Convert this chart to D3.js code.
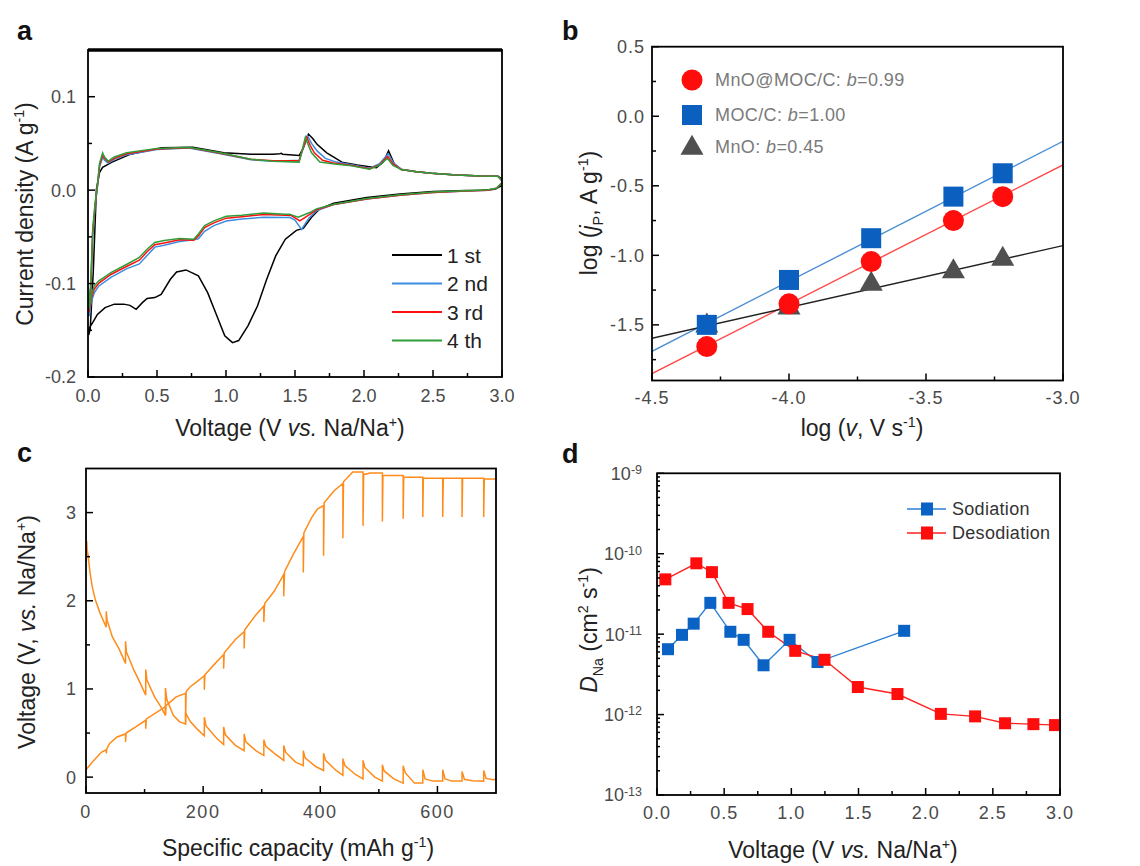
<!DOCTYPE html>
<html><head><meta charset="utf-8">
<script src="https://cdn.jsdelivr.net/npm/d3@7/dist/d3.min.js"></script>
<style>body{margin:0;background:#fff}svg{display:block}text{font-family:"Liberation Sans",Arial,sans-serif}</style>
</head><body>
<script>
// ---------- Panel a: CV curves [V, j] ----------
const cycleLabels = ["1 st","2 nd","3 rd","4 th"];
const cycleColors = ["#000000","#3b8ee0","#ff1010","#2f9e3a"];
const cv1 = [[0.005,-0.155],[0.016,-0.149],[0.038,-0.088],[0.061,0.001],[0.084,0.019],[0.106,0.0244],[0.174,0.030],[0.309,0.0385],[0.534,0.0454],[0.76,0.0458],[0.984,0.040],[1.18,0.0385],[1.34,0.0385],[1.39,0.039],[1.4,0.0395],[1.41,0.0385],[1.53,0.037],[1.56,0.045],[1.597,0.060],[1.63,0.055],[1.66,0.049],[1.73,0.040],[1.84,0.030],[1.95,0.0268],[2.09,0.024],[2.14,0.030],[2.178,0.042],[2.22,0.028],[2.27,0.022],[2.38,0.0196],[2.49,0.018],[2.67,0.0161],[2.85,0.0152],[2.97,0.015],[3.0,0.012],
 [3.0,0.005],[2.95,0.001],[2.85,0.0],[2.74,-0.0005],[2.5,-0.0015],[2.26,-0.004],[2.02,-0.008],[1.78,-0.014],[1.68,-0.020],[1.62,-0.029],[1.56,-0.041],[1.51,-0.043],[1.43,-0.0525],[1.36,-0.0704],[1.295,-0.0954],[1.228,-0.124],[1.16,-0.145],[1.092,-0.161],[1.047,-0.1632],[0.991,-0.156],[0.935,-0.135],[0.867,-0.1097],[0.80,-0.0918],[0.71,-0.0854],[0.642,-0.0875],[0.597,-0.0954],[0.53,-0.1115],[0.484,-0.115],[0.428,-0.116],[0.394,-0.1204],[0.349,-0.1275],[0.304,-0.1233],[0.259,-0.122],[0.191,-0.122],[0.124,-0.1257],[0.068,-0.133],[0.034,-0.1418],[0.011,-0.147],[0.003,-0.155]];
const cv2 = [[0,-0.135],[0.02,-0.11],[0.034,-0.048],[0.052,-0.017],[0.068,0.003],[0.084,0.025],[0.106,0.035],[0.12,0.032],[0.147,0.029],[0.19,0.033],[0.28,0.038],[0.5,0.0435],[0.73,0.045],[0.96,0.039],[1.18,0.0325],[1.34,0.031],[1.53,0.032],[1.57,0.050],[1.59,0.0583],[1.62,0.050],[1.66,0.042],[1.72,0.034],[1.8,0.030],[1.9,0.0275],[2.04,0.0235],[2.11,0.028],[2.175,0.039],[2.215,0.029],[2.27,0.0225],[2.38,0.0196],[2.49,0.018],[2.67,0.0161],[2.85,0.0152],[2.97,0.015],[3.0,0.010],
 [3.0,0.008],[2.96,0.002],[2.9,0.0],[2.74,-0.001],[2.5,-0.0025],[2.26,-0.0055],[2.02,-0.0095],[1.78,-0.0155],[1.655,-0.022],[1.6,-0.03],[1.547,-0.042],[1.5,-0.032],[1.46,-0.029],[1.43,-0.0293],[1.273,-0.029],[1.115,-0.031],[1.002,-0.033],[0.912,-0.038],[0.845,-0.044],[0.80,-0.052],[0.766,-0.053],[0.664,-0.055],[0.552,-0.059],[0.484,-0.061],[0.428,-0.070],[0.372,-0.079],[0.282,-0.084],[0.169,-0.093],[0.079,-0.1025],[0.045,-0.11],[0.023,-0.12],[0.007,-0.135]];
const cv3 = [[0,-0.13],[0.02,-0.105],[0.034,-0.045],[0.052,-0.015],[0.068,0.004],[0.084,0.027],[0.106,0.037],[0.12,0.034],[0.147,0.030],[0.19,0.034],[0.28,0.039],[0.5,0.044],[0.73,0.0455],[0.96,0.0395],[1.18,0.033],[1.34,0.0315],[1.53,0.0315],[1.565,0.048],[1.585,0.0565],[1.61,0.048],[1.64,0.040],[1.7,0.032],[1.78,0.029],[1.89,0.027],[2.04,0.023],[2.11,0.027],[2.172,0.036],[2.21,0.028],[2.27,0.022],[2.38,0.0196],[2.49,0.018],[2.67,0.0161],[2.85,0.0152],[2.97,0.015],[3.0,0.010],
 [3.0,0.008],[2.96,0.002],[2.9,0.0],[2.74,-0.001],[2.5,-0.0025],[2.26,-0.0055],[2.02,-0.0095],[1.78,-0.0155],[1.655,-0.021],[1.607,-0.026],[1.535,-0.033],[1.47,-0.027],[1.43,-0.027],[1.273,-0.026],[1.115,-0.0285],[1.002,-0.030],[0.912,-0.035],[0.845,-0.040],[0.80,-0.049],[0.766,-0.0535],[0.664,-0.053],[0.552,-0.0565],[0.484,-0.0585],[0.428,-0.066],[0.372,-0.075],[0.282,-0.0815],[0.169,-0.090],[0.079,-0.0995],[0.045,-0.106],[0.023,-0.116],[0.007,-0.13]];
const cv4 = [[0,-0.127],[0.02,-0.10],[0.034,-0.042],[0.052,-0.013],[0.068,0.005],[0.084,0.029],[0.106,0.040],[0.12,0.0355],[0.147,0.031],[0.19,0.0355],[0.28,0.040],[0.5,0.0447],[0.73,0.0458],[0.96,0.040],[1.18,0.033],[1.34,0.031],[1.53,0.030],[1.56,0.0475],[1.575,0.0565],[1.6,0.047],[1.62,0.040],[1.68,0.030],[1.77,0.0283],[1.89,0.0265],[2.04,0.0225],[2.11,0.0265],[2.17,0.0339],[2.21,0.0265],[2.27,0.022],[2.38,0.0196],[2.49,0.018],[2.67,0.0161],[2.85,0.0152],[2.97,0.015],[3.0,0.010],
 [3.0,0.008],[2.96,0.002],[2.9,0.0005],[2.74,-0.0007],[2.5,-0.002],[2.26,-0.005],[2.02,-0.009],[1.78,-0.015],[1.655,-0.020],[1.607,-0.024],[1.523,-0.029],[1.46,-0.0257],[1.43,-0.0257],[1.273,-0.0246],[1.115,-0.0268],[1.002,-0.028],[0.912,-0.0329],[0.845,-0.038],[0.80,-0.047],[0.766,-0.0525],[0.664,-0.0518],[0.552,-0.054],[0.484,-0.056],[0.428,-0.0632],[0.372,-0.072],[0.282,-0.0793],[0.169,-0.088],[0.079,-0.097],[0.045,-0.1025],[0.023,-0.113],[0.007,-0.127]];
const aXTicks = [0,0.5,1,1.5,2,2.5,3];
const aYTicks = [-0.2,-0.1,0,0.1];

// ---------- Panel b ----------
const logScanRate = [-4.3,-4.0,-3.7,-3.4,-3.22];
const logJ_MnOMOC = [-1.656,-1.349,-1.045,-0.75,-0.578];
const logJ_MOC = [-1.5,-1.177,-0.877,-0.578,-0.41];
const logJ_MnO = [-1.5,-1.37,-1.2,-1.11,-1.02];
const fitX = [-4.5,-3.0];
const fit_MnOMOC = [-1.85,-0.35];
const fit_MOC = [-1.69,-0.18];
const fit_MnO = [-1.596,-0.93];
const bLegend = ["MnO@MOC/C: ","MOC/C: ","MnO: "];
const bValues = ["0.99","1.00","0.45"];
const bXTicks = [-4.5,-4.0,-3.5,-3.0];
const bYTicks = [-1.5,-1.0,-0.5,0.0,0.5];

// ---------- Panel c: GITT [capacity, V] ----------
const gittDischarge = [[0,2.92],[0.6,2.45],[1.2,2.68],[2,2.58],[3.7,2.51],[6.9,2.32],[10.6,2.16],[16,2.01],[24,1.86],[34.6,1.70],[34.6,1.88],[36,1.78],[45,1.59],[56,1.46],[67.5,1.29],[67.5,1.54],[69,1.42],[82,1.21],[93,1.06],[102,0.93],[102,1.22],[104,1.10],[117,0.91],[127.6,0.80],[135.6,0.70],[135.6,1.01],[138,0.88],[149,0.70],[159.5,0.63],[170,0.60],[170,0.73],[178,0.63],[189,0.55],[202,0.47],[202,0.68],[205,0.58],[223,0.44],[235,0.37],[235,0.57],[238,0.48],[255,0.36],[270,0.30],[270,0.49],[273,0.40],[290,0.30],[303.6,0.245],[303.6,0.425],[307,0.35],[321.6,0.27],[337.6,0.19],[337.6,0.36],[341,0.28],[357.8,0.17],[371,0.13],[371,0.30],[374,0.22],[392,0.12],[405.6,0.076],[405.6,0.27],[409,0.19],[427,0.076],[438.6,0.02],[438.6,0.21],[442,0.13],[460,0.03],[473,-0.02],[473,0.19],[476,0.11],[493,0.0],[506,-0.045],[506,0.14],[509,0.07],[525.6,-0.02],[541.5,-0.068],[541.5,0.13],[545,0.05],[560.8,-0.068],[575,-0.068],[575,0.084],[579,-0.02],[592,-0.045],[609,-0.045],[609,0.084],[613,-0.02],[625,-0.045],[642,-0.045],[642,0.065],[646,-0.025],[660,-0.04],[679,-0.045],[679,0.075],[683,-0.015],[695,-0.03],[700,-0.025]];
const gittCharge = [[0,0.084],[13.3,0.19],[26.6,0.285],[34.6,0.31],[34.6,0.27],[35.5,0.32],[40,0.38],[53,0.456],[67.5,0.49],[67.5,0.40],[68.5,0.50],[85,0.57],[102,0.645],[102,0.55],[103,0.66],[122,0.74],[135.6,0.80],[135.6,0.70],[136.5,0.81],[154,0.91],[170,0.95],[170,0.61],[171,0.97],[178,1.025],[189,1.08],[202,1.15],[202,0.99],[203,1.16],[220.6,1.29],[235,1.39],[235,1.23],[236,1.41],[255,1.56],[270,1.65],[270,1.46],[271,1.67],[290,1.84],[303.6,1.94],[303.6,1.76],[305,1.97],[321.6,2.11],[337.6,2.30],[337.6,2.05],[339,2.33],[352.5,2.51],[371,2.73],[371,2.32],[372,2.77],[385,2.94],[395,3.04],[405.6,3.08],[405.6,2.51],[406.6,3.11],[424,3.25],[438.6,3.33],[438.6,2.71],[439.6,3.35],[455.5,3.46],[473,3.46],[473,2.85],[474,3.43],[485,3.45],[506,3.45],[506,2.90],[507,3.42],[541.5,3.42],[541.5,2.93],[542.5,3.40],[575,3.40],[575,2.95],[576,3.39],[609,3.39],[609,2.95],[610,3.39],[642,3.39],[642,2.95],[643,3.39],[679,3.39],[679,2.95],[680,3.38],[700,3.38]];
const cXTicks = [0,200,400,600];
const cYTicks = [0,1,2,3];

// ---------- Panel d ----------
const sodV = [0.082,0.186,0.273,0.397,0.546,0.645,0.793,0.987,1.195,1.84];
const sodD = [6.5e-12,9.8e-12,1.35e-11,2.45e-11,1.07e-11,8.5e-12,4.1e-12,8.5e-12,4.5e-12,1.1e-11];
const desV = [0.062,0.293,0.409,0.533,0.674,0.828,1.029,1.247,1.495,1.79,2.113,2.368,2.591,2.802,2.963];
const desD = [4.8e-11,7.6e-11,5.9e-11,2.45e-11,2.05e-11,1.07e-11,6.2e-12,4.8e-12,2.2e-12,1.8e-12,1.02e-12,9.5e-13,7.8e-13,7.6e-13,7.4e-13];
const dLegend = ["Sodiation","Desodiation"];
const dXTicks = [0,0.5,1,1.5,2,2.5,3];
const dYExp = [-13,-12,-11,-10,-9];

// ================= drawing =================
const W = 1140, H = 866;
const svg = d3.select("body").append("svg").attr("width",W).attr("height",H);
const TICK_COL = "#4a4a4a", TITLE_COL = "#222";
const TS = 18, TT = 23;

function rich(t, parts, size){
  let off = 0;
  parts.forEach(p=>{
    const ts = t.append("tspan").text(p.t);
    let target = 0, fs = size;
    if (p.sup){ target = -0.4*size; fs = size*0.62; }
    if (p.sub){ target = 0.28*size; fs = size*0.62; }
    ts.attr("dy", (target-off)+"px").attr("font-size", fs+"px");
    if (p.it) ts.attr("font-style","italic");
    off = target;
  });
}
function frame(g, x, y, thick){
  const [x0,x1] = x.range(), [y0,y1] = [y.range()[1], y.range()[0]];
  g.append("rect").attr("x",x0).attr("y",y0).attr("width",x1-x0).attr("height",y1-y0)
   .attr("fill","none").attr("stroke","#000").attr("stroke-width",thick||1.8);
}
function xTicks(g, x, yB, vals, len){
  vals.forEach(v=>g.append("line").attr("x1",x(v)).attr("x2",x(v)).attr("y1",yB).attr("y2",yB-len)
    .attr("stroke","#000").attr("stroke-width",1.5));
}
function yTicks(g, y, xL, vals, len){
  vals.forEach(v=>g.append("line").attr("y1",y(v)).attr("y2",y(v)).attr("x1",xL).attr("x2",xL+len)
    .attr("stroke","#000").attr("stroke-width",1.5));
}
function xLabels(g, x, yPos, vals, fmt, size, ls){
  vals.forEach(v=>g.append("text").attr("x",x(v)).attr("y",yPos).attr("text-anchor","middle")
    .attr("font-size",size).attr("fill",TICK_COL).attr("letter-spacing",ls||0).text(fmt(v)));
}
function yLabels(g, y, xPos, vals, fmt, size, ls){
  vals.forEach(v=>g.append("text").attr("x",xPos).attr("y",y(v)).attr("dy","0.36em").attr("text-anchor","end")
    .attr("font-size",size).attr("fill",TICK_COL).attr("letter-spacing",ls||0).text(fmt(v)));
}
function panelLabel(x,y,s){
  svg.append("text").attr("x",x).attr("y",y).attr("font-size",27).attr("font-weight","bold").attr("fill","#111").text(s);
}
function step(a,b,s){ const r=[]; for(let v=a; v<=b+1e-9; v+=s) r.push(+v.toFixed(4)); return r; }
const f1 = d=>d.toFixed(1);

// ---------- a ----------
{
  const x = d3.scaleLinear().domain([0,3]).range([88,502]);
  const y = d3.scaleLinear().domain([-0.2,0.15]).range([377,50]);
  const g = svg.append("g");
  g.append("clipPath").attr("id","clipA").append("rect").attr("x",88).attr("y",50).attr("width",414).attr("height",327);
  const line = d3.line().x(d=>x(d[0])).y(d=>y(d[1]));
  [cv1,cv2,cv3,cv4].forEach((c,i)=>g.append("path").attr("d",line(c)).attr("fill","none")
    .attr("stroke",cycleColors[i]).attr("stroke-width",1.5).attr("clip-path","url(#clipA)"));
  frame(g,x,y,1.8);
  g.append("line").attr("x1",88).attr("x2",502).attr("y1",50).attr("y2",50).attr("stroke","#000").attr("stroke-width",3.5);
  xTicks(g,x,377,aXTicks,7); xTicks(g,x,377,step(0.25,2.75,0.5),4);
  yTicks(g,y,88,aYTicks,7); yTicks(g,y,88,[-0.15,-0.05,0.05],4);
  xLabels(g,x,402,aXTicks,f1,TS,0);
  yLabels(g,y,76,aYTicks,f1,TS,0);
  cycleLabels.forEach((l,i)=>{
    const yy = 255+i*28.5;
    g.append("line").attr("x1",392).attr("x2",442).attr("y1",yy).attr("y2",yy).attr("stroke",cycleColors[i]).attr("stroke-width",2);
    g.append("text").attr("x",447).attr("y",yy).attr("dy","0.36em").attr("font-size",21).attr("fill","#222").text(l);
  });
  const tx = g.append("text").attr("x",290).attr("y",436).attr("text-anchor","middle").attr("font-size",TT).attr("fill",TITLE_COL);
  rich(tx,[{t:"Voltage (V "},{t:"vs.",it:true},{t:" Na/Na"},{t:"+",sup:true},{t:")"}],TT);
  const ty = g.append("text").attr("transform","translate(33,214) rotate(-90)").attr("text-anchor","middle").attr("font-size",TT).attr("fill",TITLE_COL);
  rich(ty,[{t:"Current density (A g"},{t:"-1",sup:true},{t:")"}],TT);
  panelLabel(17,40,"a");
}

// ---------- b ----------
{
  const x = d3.scaleLinear().domain([-4.5,-3.0]).range([652,1063]);
  const y = d3.scaleLinear().domain([-1.9,0.5]).range([380.5,46.7]);
  const g = svg.append("g");
  g.append("clipPath").attr("id","clipB").append("rect").attr("x",652).attr("y",47).attr("width",411).attr("height",333);
  const fl = (ys,col)=>g.append("line").attr("x1",x(fitX[0])).attr("x2",x(fitX[1])).attr("y1",y(ys[0])).attr("y2",y(ys[1]))
    .attr("stroke",col).attr("stroke-width",1.4).attr("clip-path","url(#clipB)");
  fl(fit_MOC,"#4a8fd6"); fl(fit_MnOMOC,"#ff4a4a"); fl(fit_MnO,"#222");
  const tri = d3.symbol().type(d3.symbolTriangle).size(230);
  logScanRate.forEach((v,i)=>g.append("path").attr("d",tri()).attr("transform",`translate(${x(v)},${y(logJ_MnO[i])+1})`).attr("fill","#505050"));
  logScanRate.forEach((v,i)=>g.append("rect").attr("x",x(v)-10).attr("y",y(logJ_MOC[i])-10).attr("width",20).attr("height",20).attr("fill","#0a5fbf"));
  logScanRate.forEach((v,i)=>g.append("circle").attr("cx",x(v)).attr("cy",y(logJ_MnOMOC[i])).attr("r",10.5).attr("fill","#ff0d0d"));
  frame(g,x,y,1.8);
  xTicks(g,x,380.5,bXTicks,7); xTicks(g,x,380.5,step(-4.25,-3.25,0.5),4);
  yTicks(g,y,652,bYTicks,7); yTicks(g,y,652,step(-1.75,0.25,0.5),4);
  xLabels(g,x,404,bXTicks,f1,TS,1);
  yLabels(g,y,645,bYTicks,f1,TS,1);
  g.append("circle").attr("cx",692).attr("cy",80).attr("r",10.5).attr("fill","#ff0d0d");
  g.append("rect").attr("x",682).attr("y",105).attr("width",20).attr("height",20).attr("fill","#0a5fbf");
  g.append("path").attr("d",tri()).attr("transform","translate(692,148)").attr("fill","#505050");
  [80,115,147].forEach((yy,i)=>{
    const t = g.append("text").attr("x",715).attr("y",yy).attr("dy","0.36em").attr("font-size",18).attr("letter-spacing",0.4).attr("fill","#7a7a7a");
    t.append("tspan").text(bLegend[i]);
    t.append("tspan").attr("font-style","italic").text("b");
    t.append("tspan").text("="+bValues[i]);
  });
  const tx = g.append("text").attr("x",862).attr("y",436).attr("text-anchor","middle").attr("font-size",TT).attr("fill",TITLE_COL);
  rich(tx,[{t:"log ("},{t:"v",it:true},{t:", V s"},{t:"-1",sup:true},{t:")"}],TT);
  const ty = g.append("text").attr("transform","translate(597,213) rotate(-90)").attr("text-anchor","middle").attr("font-size",TT).attr("fill",TITLE_COL);
  rich(ty,[{t:"log ("},{t:"j",it:true},{t:"P",sub:true},{t:", A g"},{t:"-1",sup:true},{t:")"}],TT);
  panelLabel(562,40,"b");
}

// ---------- c ----------
{
  const x = d3.scaleLinear().domain([0,700]).range([86,496]);
  const y = d3.scaleLinear().domain([-0.18,3.5]).range([793,468.5]);
  const g = svg.append("g");
  g.append("clipPath").attr("id","clipC").append("rect").attr("x",86).attr("y",468.5).attr("width",410).attr("height",324.5);
  const line = d3.line().x(d=>x(d[0])).y(d=>y(d[1]));
  [gittDischarge,gittCharge].forEach(c=>g.append("path").attr("d",line(c)).attr("fill","none")
    .attr("stroke","#ff8c1a").attr("stroke-width",1.5).attr("clip-path","url(#clipC)"));
  frame(g,x,y,1.8);
  xTicks(g,x,793,cXTicks,7); xTicks(g,x,793,[100,300,500],4);
  yTicks(g,y,86,cYTicks,7); yTicks(g,y,86,[0.5,1.5,2.5],4);
  xLabels(g,x,818,cXTicks,d=>String(d),TS,1.5);
  yLabels(g,y,76,cYTicks,d=>String(d),TS,0);
  const tx = g.append("text").attr("x",298).attr("y",856).attr("text-anchor","middle").attr("font-size",TT).attr("fill",TITLE_COL);
  rich(tx,[{t:"Specific capacity (mAh g"},{t:"-1",sup:true},{t:")"}],TT);
  const ty = g.append("text").attr("transform","translate(35,632) rotate(-90)").attr("text-anchor","middle").attr("font-size",TT).attr("fill",TITLE_COL);
  rich(ty,[{t:"Voltage (V, "},{t:"vs.",it:true},{t:" Na/Na"},{t:"+",sup:true},{t:")"}],TT);
  panelLabel(17,462,"c");
}

// ---------- d ----------
{
  const x = d3.scaleLinear().domain([0,3]).range([657,1060]);
  const y = d3.scaleLog().domain([1e-13,1e-9]).range([795,473.3]);
  const g = svg.append("g");
  const line = d3.line().x(d=>x(d[0])).y(d=>y(d[1]));
  const sod = sodV.map((v,i)=>[v,sodD[i]]), des = desV.map((v,i)=>[v,desD[i]]);
  g.append("path").attr("d",line(sod)).attr("fill","none").attr("stroke","#2a7fd4").attr("stroke-width",1.4);
  g.append("path").attr("d",line(des)).attr("fill","none").attr("stroke","#ff2020").attr("stroke-width",1.4);
  sod.forEach(d=>g.append("rect").attr("x",x(d[0])-6).attr("y",y(d[1])-6).attr("width",12).attr("height",12).attr("fill","#0a62c4"));
  des.forEach(d=>g.append("rect").attr("x",x(d[0])-6).attr("y",y(d[1])-6).attr("width",12).attr("height",12).attr("fill","#ff0d0d"));
  frame(g,x,y,1.8);
  xTicks(g,x,795,dXTicks,7); xTicks(g,x,795,step(0.25,2.75,0.5),4);
  const decades = dYExp.map(e=>Math.pow(10,e));
  yTicks(g,y,657,decades,7);
  const minors=[]; dYExp.slice(0,-1).forEach(e=>{ for(let k=2;k<=9;k++) minors.push(k*Math.pow(10,e)); });
  yTicks(g,y,657,minors,3);
  xLabels(g,x,819,dXTicks,f1,TS,1);
  dYExp.forEach(e=>{
    const t = g.append("text").attr("x",642).attr("y",y(Math.pow(10,e))).attr("dy","0.36em").attr("text-anchor","end").attr("font-size",TS).attr("fill",TICK_COL);
    t.append("tspan").text("10");
    t.append("tspan").attr("dy","-0.45em").attr("font-size",12.5).text(String(e));
  });
  [["#2a7fd4","#0a62c4",509],["#ff2020","#ff0d0d",533]].forEach((c,i)=>{
    const yy=c[2];
    g.append("line").attr("x1",907).attr("x2",946).attr("y1",yy).attr("y2",yy).attr("stroke",c[0]).attr("stroke-width",1.4);
    g.append("rect").attr("x",921).attr("y",yy-6.5).attr("width",12).attr("height",13).attr("fill",c[1]);
    g.append("text").attr("x",952).attr("y",yy).attr("dy","0.36em").attr("font-size",18).attr("letter-spacing",0.3).attr("fill","#333").text(dLegend[i]);
  });
  const tx = g.append("text").attr("x",843).attr("y",858).attr("text-anchor","middle").attr("font-size",TT).attr("fill",TITLE_COL);
  rich(tx,[{t:"Voltage (V "},{t:"vs.",it:true},{t:" Na/Na"},{t:"+",sup:true},{t:")"}],TT);
  const ty = g.append("text").attr("transform","translate(597,630) rotate(-90)").attr("text-anchor","middle").attr("font-size",TT).attr("fill",TITLE_COL);
  rich(ty,[{t:"D",it:true},{t:"Na",sub:true},{t:" (cm"},{t:"2",sup:true},{t:" s"},{t:"-1",sup:true},{t:")"}],TT);
  panelLabel(562,463,"d");
}
</script>
</body></html>
